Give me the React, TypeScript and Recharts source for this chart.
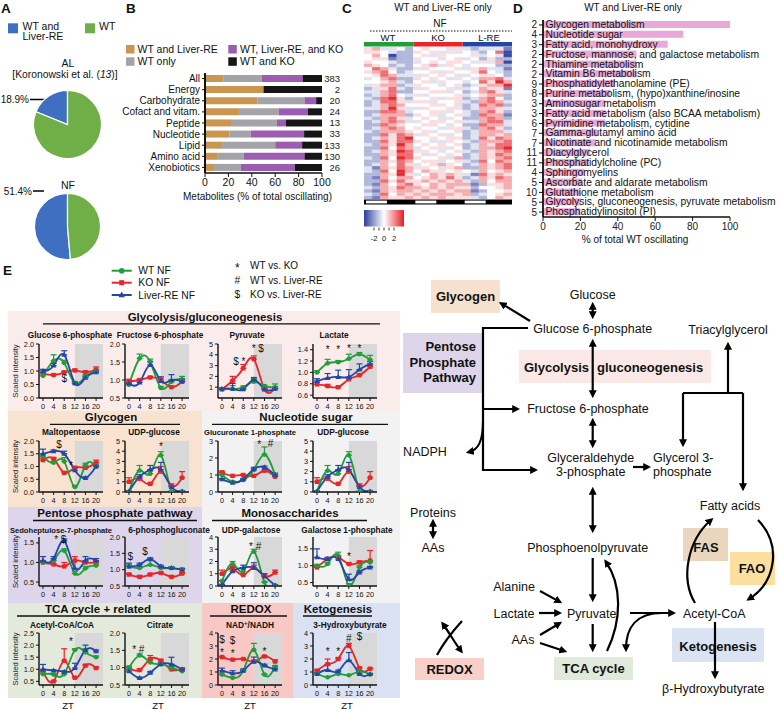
import React from 'react';
import {
  PieChart, Pie, Cell, BarChart, Bar, XAxis, YAxis, LineChart, Line,
  ErrorBar, ReferenceArea, ReferenceDot, LabelList,
} from 'recharts';

const FONT = '"Liberation Sans", Arial, Helvetica, sans-serif';
const GREEN = '#1f9e3a';
const RED = '#e8262a';
const BLUE = '#2446a8';

// ===== Panel A =====
const pieNames = ['WT and Liver-RE', 'WT'];
const alShares = [18.9, 81.1];
const nfShares = [51.4, 48.6];
const pieColors = ['#3f6fc1', '#70ae48'];

// ===== Panel B =====
const bCategories = ['All', 'Energy', 'Carbohydrate', 'Cofact and vitam.', 'Peptide', 'Nucleotide', 'Lipid', 'Amino acid', 'Xenobiotics'];
const bWtLre = [16, 50, 45, 29, 23, 21, 14.5, 11, 7.7];
const bWtOnly = [32.5, 0, 40, 34, 38.5, 18.2, 45.5, 22, 23];
const bAllThree = [35, 0, 10, 25, 7.7, 45.5, 23, 52, 46.2];
const bWtKo = [16.5, 50, 5, 12, 30.8, 15.3, 17, 15, 23.1];
const bCounts = [383, 2, 20, 24, 13, 33, 133, 130, 26];
const bSeries = ['WT and Liver-RE', 'WT only', 'WT, Liver-RE, and KO', 'WT and KO'];
const bColors = ['#c9954f', '#a4a4a8', '#9c5cb0', '#161616'];
const bTicks = [0, 20, 40, 60, 80, 100];

// ===== Panel C (z-scores, digit 0..8 -> -2..+2; columns WT x6 | KO x6 | L-RE x6) =====
const heatGroups = ['WT', 'KO', 'L-RE'];
const heatRows = [
  '563342 454435 323331',
  '554322 545353 432470',
  '464022 453544 453430',
  '455122 544345 342522',
  '544322 345455 435360',
  '654232 456354 344422',
  '476522 534445 356331',
  '567423 445354 457432',
  '457633 354543 345542',
  '346722 545435 436673',
  '445632 453544 347586',
  '356623 544345 235668',
  '235732 354453 346551',
  '336722 445534 236753',
  '236743 534445 345662',
  '327852 445355 236742',
  '237753 553445 326763',
  '236764 445543 237672',
  '336853 354455 236653',
  '227763 445534 326752',
  '236662 545345 327661',
  '326753 454354 226762',
  '236763 345545 336773',
  '227654 455434 227663',
  '236764 544355 326752',
  '326665 453445 236663',
  '227576 354534 236656',
  '236578 445455 237576',
  '227577 543354 326667',
  '326586 454545 236577',
  '227476 345534 236678',
  '236587 554345 326567',
  '226577 435454 236576',
  '327487 544536 236567',
  '226576 455345 327476',
  '236475 345654 236567',
  '316576 554356 226567',
  '327486 465545 436456',
  '226585 346565 317565',
  '216466 456575 236576',
  '227575 565656 326466',
  '216467 546566 612556',
  '326576 656565 524456',
  '216566 565656 612445',
  '327465 656665 623456',
  '216556 565655 532465',
];

// ===== Panel D =====
const dPathways = [
  'Glycogen metabolism', 'Nucleotide sugar', 'Fatty acid, monohydroxy',
  'Fructose, mannose, and galactose metabolism', 'Thiamine metabolism', 'Vitamin B6 metabolism',
  'Phosphatidylethanolamine (PE)', 'Purine metabolism, (hypo)xanthine/inosine', 'Aminosugar metabolism',
  'Fatty acid metabolism (also BCAA metabolism)', 'Pyrimidine metabolism, cytidine', 'Gamma-glutamyl amino acid',
  'Nicotinate and nicotinamide metabolism', 'Diacylglycerol', 'Phosphatidylcholine (PC)', 'Sphingomyelins',
  'Ascorbate and aldarate metabolism', 'Glutathione metabolism', 'Glycolysis, gluconeogenesis, pyruvate metabolism',
  'Phosphatidylinositol (PI)',
];
const dCounts = [2, 4, 3, 2, 2, 2, 9, 8, 3, 3, 6, 7, 7, 11, 11, 4, 5, 10, 5, 5];
const dPercent = [100, 75, 66.7, 50, 50, 50, 38.5, 36, 33.3, 33.3, 33.3, 29, 28, 25, 24.4, 22.2, 20.8, 20, 20, 20];
const dTicks = [0, 20, 40, 60, 80, 100];

// ===== Panel E =====
const zt = [0, 4, 8, 12, 16, 20];
const g6p = { wt: [0.82, 1.38, 1.3, 0.55, 0.8, 1.0], wtErr: [0.08, 0.22, 0.1, 0.05, 0.06, 0.06], ko: [0.9, 0.85, 0.95, 1.02, 0.95, 1.05], koErr: [0.05, 0.04, 0.04, 0.05, 0.06, 0.1], re: [1.0, 1.2, 1.6, 0.55, 0.75, 0.95], reErr: [0.06, 0.08, 0.15, 0.05, 0.06, 0.06] };
const f6p = { wt: [0.87, 1.6, 1.5, 0.78, 0.95, 1.02], wtErr: [0.04, 0.12, 0.08, 0.04, 0.05, 0.08], ko: [0.97, 1.0, 1.07, 1.0, 0.8, 0.95], koErr: [0.05, 0.03, 0.03, 0.05, 0.04, 0.05], re: [0.9, 0.93, 1.42, 0.97, 1.0, 0.97], reErr: [0.04, 0.05, 0.1, 0.12, 0.15, 0.06] };
const pyruvate = { wt: [0.8, 0.85, 1.0, 1.5, 1.1, 1.0], wtErr: [0.05, 0.3, 0.1, 0.3, 0.1, 0.3], ko: [0.8, 1.6, 2.75, 3.6, 0.8, 0.9], koErr: [0.1, 0.4, 0.35, 0.3, 0.1, 0.15], re: [0.85, 0.85, 0.8, 1.7, 0.8, 0.85], reErr: [0.1, 0.5, 0.05, 0.2, 0.05, 0.05] };
const lactate = { wt: [1.0, 1.16, 1.18, 1.24, 1.32, 1.22], wtErr: [0.03, 0.07, 0.03, 0.08, 0.03, 0.08], ko: [0.79, 0.76, 0.74, 0.88, 0.95, 1.1], koErr: [0.03, 0.03, 0.02, 0.03, 0.03, 0.03], re: [0.85, 0.9, 0.92, 0.92, 1.05, 1.15], reErr: [0.04, 0.08, 0.12, 0.13, 0.1, 0.04] };
const maltopentaose = { wt: [1.4, 1.15, 1.2, 0.2, 1.05, 1.0], wtErr: [0.08, 0.05, 0.15, 0.05, 0.08, 0.05], ko: [1.25, 1.3, 0.75, 0.95, 0.95, 1.15], koErr: [0.08, 0.05, 0.05, 0.05, 0.05, 0.1], re: [1.5, 1.6, 1.5, 0.85, 0.55, 1.0], reErr: [0.18, 0.05, 0.1, 0.1, 0.05, 0.05] };
const udpGlucose = { wt: [0.05, 2.1, 1.8, 3.6, 0.05, 0.05], wtErr: [0.05, 0.5, 0.3, 0.35, 0.05, 0.05], ko: [1.0, 1.3, 0.8, 2.0, 0.6, 1.4], koErr: [0.4, 0.2, 0.1, 0.5, 0.2, 0.6], re: [0.05, 1.5, 2.2, 2.2, 0.5, 0.05], reErr: [0.05, 0.2, 0.4, 0.7, 0.1, 0.05] };
const glucuronate1p = { wt: [1.0, 0.6, 0.7, 1.3, 2.2, 1.0], wtErr: [0.05, 0.05, 0.05, 0.1, 0.45, 0.12], ko: [1.15, 0.95, 1.0, 0.95, 1.25, 0.9], koErr: [0.08, 0.03, 0.05, 0.05, 0.05, 0.05], re: [0.75, 0.55, 0.75, 1.35, 1.45, 1.0], reErr: [0.05, 0.05, 0.05, 0.1, 0.08, 0.05] };
const sedoheptulose7p = { wt: [1.0, 1.05, 1.3, 0.72, 0.85, 0.92], wtErr: [0.03, 0.05, 0.05, 0.05, 0.05, 0.04], ko: [1.0, 0.95, 0.9, 1.05, 1.0, 1.0], koErr: [0.03, 0.03, 0.1, 0.1, 0.03, 0.03], re: [1.05, 1.1, 1.55, 0.85, 1.05, 1.05], reErr: [0.1, 0.05, 0.05, 0.2, 0.1, 0.05] };
const phosphogluconate6 = { wt: [1.1, 1.05, 1.15, 1.05, 1.05, 1.0], wtErr: [0.05, 0.04, 0.2, 0.05, 0.03, 0.04], ko: [0.85, 0.78, 0.85, 0.9, 0.78, 0.88], koErr: [0.04, 0.04, 0.04, 0.03, 0.03, 0.03], re: [1.1, 1.15, 1.32, 1.1, 1.05, 1.0], reErr: [0.1, 0.05, 0.04, 0.04, 0.04, 0.04] };
const udpGalactose = { wt: [0.4, 1.8, 1.2, 2.8, 0.3, 0.05], wtErr: [0.05, 0.2, 0.3, 0.2, 0.05, 0.05], ko: [1.0, 1.4, 0.9, 1.5, 0.8, 1.1], koErr: [0.3, 0.2, 0.1, 0.2, 0.2, 0.2], re: [0.1, 1.2, 1.5, 1.5, 0.8, 0.05], reErr: [0.05, 0.3, 0.2, 0.4, 0.2, 0.05] };
const galactose1p = { wt: [1.0, 1.05, 1.3, 0.42, 0.95, 1.1], wtErr: [0.04, 0.05, 0.1, 0.05, 0.05, 0.05], ko: [0.95, 1.2, 1.25, 1.05, 1.1, 1.15], koErr: [0.03, 0.04, 0.03, 0.04, 0.04, 0.3], re: [1.25, 1.2, 1.2, 0.6, 0.8, 0.95], reErr: [0.25, 0.05, 0.05, 0.15, 0.05, 0.03] };
const acetylCoA = { wt: [0.8, 0.78, 0.8, 1.8, 1.7, 1.5], wtErr: [0.05, 0.05, 0.05, 0.05, 0.15, 0.05], ko: [0.9, 0.5, 1.35, 0.65, 1.15, 1.05], koErr: [0.05, 0.03, 0.5, 0.05, 0.05, 0.05], re: [1.0, 0.95, 0.9, 1.05, 1.8, 1.75], reErr: [0.2, 0.03, 0.03, 0.2, 0.2, 0.05] };
const citrate = { wt: [1.0, 1.35, 1.15, 1.1, 1.0, 0.9], wtErr: [0.03, 0.05, 0.05, 0.04, 0.04, 0.03], ko: [1.0, 0.93, 1.25, 1.2, 0.95, 0.95], koErr: [0.04, 0.04, 0.1, 0.04, 0.04, 0.04], re: [0.9, 0.7, 0.85, 1.1, 1.1, 0.95], reErr: [0.04, 0.03, 0.04, 0.05, 0.2, 0.04] };
const nadRatio = { wt: [0.8, 0.55, 1.1, 2.7, 0.8, 1.4], wtErr: [0.05, 0.05, 0.15, 0.5, 0.05, 0.1], ko: [2.15, 1.95, 2.0, 1.8, 2.2, 1.8], koErr: [0.05, 0.05, 0.05, 0.1, 0.05, 0.15], re: [1.1, 0.9, 1.1, 1.8, 1.5, 1.2], reErr: [0.2, 0.2, 0.1, 0.35, 0.1, 0.1] };
const hydroxybutyrate = { wt: [0.9, 0.6, 0.85, 0.75, 1.05, 0.8], wtErr: [0.05, 0.05, 0.05, 0.05, 0.05, 0.05], ko: [1.1, 1.6, 2.0, 3.0, 1.3, 1.25], koErr: [0.05, 0.4, 0.1, 0.2, 0.05, 0.05], re: [0.85, 1.15, 1.05, 1.9, 0.85, 0.85], reErr: [0.05, 0.4, 0.1, 0.6, 0.05, 0.05] };

// significance marks (ZT, value, symbol)
const g6pMarks = [{ t: 8, v: 0.72, s: '$' }];
const pyruvateMarks = [{ t: 6.5, v: 3.4, s: '$ *' }, { t: 13.5, v: 4.6, s: '* $' }];
const lactateMarks = [{ t: 4, v: 1.4, s: '*' }, { t: 8, v: 1.4, s: '*' }, { t: 12, v: 1.42, s: '*' }, { t: 16, v: 1.42, s: '*' }];
const maltoMarks = [{ t: 6, v: 1.85, s: '$' }, { t: 10.5, v: 1.05, s: '*' }];
const udpGlcMarks = [{ t: 12, v: 4.5, s: '*' }];
const glucuronateMarks = [{ t: 14, v: 2.8, s: '*' }, { t: 18.3, v: 2.85, s: '#' }];
const sedoMarks = [{ t: 6.5, v: 1.58, s: '* $' }];
const pgMarks = [{ t: 0.5, v: 1.4, s: '$' }, { t: 6, v: 1.55, s: '$' }];
const udpGalMarks = [{ t: 12.5, v: 3.25, s: '* #' }];
const gal1pMarks = [{ t: 12, v: 1.28, s: '*' }];
const acetylMarks = [{ t: 10.5, v: 2.15, s: '*' }];
const citrateMarks = [{ t: 3.5, v: 1.52, s: '* #' }];
const nadMarks = [{ t: 0, v: 3.5, s: '$' }, { t: 4, v: 3.4, s: '$' }, { t: 0, v: 2.5, s: '*' }, { t: 4, v: 2.4, s: '*' }, { t: 16, v: 2.55, s: '*' }];
const hbMarks = [{ t: 4, v: 2.55, s: '*' }, { t: 8, v: 2.6, s: '*' }, { t: 12, v: 3.55, s: '#' }, { t: 16, v: 3.75, s: '$' }];

const ROW_Y = [[344, 398], [441, 492], [537, 586], [633, 685]];
const COL_X = [39, 125, 218, 313];
const TITLE_Y = [337.5, 434.5, 533, 628];

const smallCharts = [
  { r: 0, c: 0, title: 'Glucose 6-phosphate', tx: 70, d: g6p, dom: [0, 2], ticks: [0, 0.5, 1, 1.5, 2], dec: 1, marks: g6pMarks },
  { r: 0, c: 1, title: 'Fructose 6-phosphate', tx: 160, d: f6p, dom: [0.5, 2], ticks: [0.5, 1, 1.5, 2], dec: 1, marks: [] },
  { r: 0, c: 2, title: 'Pyruvate', tx: 247, d: pyruvate, dom: [0, 5], ticks: [1, 2, 3, 4, 5], dec: 0, marks: pyruvateMarks },
  { r: 0, c: 3, title: 'Lactate', tx: 334, d: lactate, dom: [0.55, 1.5], ticks: [0.6, 0.8, 1.0, 1.2, 1.4], dec: 1, marks: lactateMarks },
  { r: 1, c: 0, title: 'Maltopentaose', tx: 71, d: maltopentaose, dom: [0, 2], ticks: [0, 0.5, 1, 1.5, 2], dec: 1, marks: maltoMarks },
  { r: 1, c: 1, title: 'UDP-glucose', tx: 154, d: udpGlucose, dom: [0, 5], ticks: [0, 1, 2, 3, 4, 5], dec: 0, marks: udpGlcMarks },
  { r: 1, c: 2, title: 'Glucuronate 1-phosphate', tx: 250, d: glucuronate1p, dom: [0, 3], ticks: [0, 1, 2, 3], dec: 0, marks: glucuronateMarks },
  { r: 1, c: 3, title: 'UDP-glucose', tx: 343, d: udpGlucose, dom: [0, 5], ticks: [0, 1, 2, 3, 4, 5], dec: 0, marks: [] },
  { r: 2, c: 0, title: 'Sedoheptulose-7-phosphate', tx: 61, d: sedoheptulose7p, dom: [0.4, 1.65], ticks: [0.5, 1, 1.5], dec: 1, marks: sedoMarks },
  { r: 2, c: 1, title: '6-phosphogluconate', tx: 169, d: phosphogluconate6, dom: [0.5, 2], ticks: [0.5, 1, 1.5, 2], dec: 1, marks: pgMarks },
  { r: 2, c: 2, title: 'UDP-galactose', tx: 251, d: udpGalactose, dom: [0, 4], ticks: [0, 1, 2, 3, 4], dec: 0, marks: udpGalMarks },
  { r: 2, c: 3, title: 'Galactose 1-phosphate', tx: 347, d: galactose1p, dom: [0.4, 1.85], ticks: [0.5, 1, 1.5], dec: 1, marks: gal1pMarks },
  { r: 3, c: 0, title: 'Acetyl-CoA/CoA', tx: 62, d: acetylCoA, dom: [0.35, 2.5], ticks: [0.5, 1, 1.5, 2, 2.5], dec: 1, marks: acetylMarks },
  { r: 3, c: 1, title: 'Citrate', tx: 160, d: citrate, dom: [0.5, 2], ticks: [0.5, 1, 1.5, 2], dec: 1, marks: citrateMarks },
  { r: 3, c: 2, title: 'NAD+/NADH', tx: 250, d: nadRatio, dom: [0, 4], ticks: [0, 1, 2, 3, 4], dec: 0, marks: nadMarks },
  { r: 3, c: 3, title: '3-Hydroxybutyrate', tx: 350, d: hydroxybutyrate, dom: [0, 4], ticks: [0, 1, 2, 3, 4], dec: 0, marks: hbMarks },
];

// ---------- helpers ----------
function heatColor(v: number) {
  const t = Math.pow(Math.min(1, Math.abs(v) / 2), 1.35) * 0.95;
  const base = v < 0 ? [42, 63, 157] : [228, 31, 38];
  const m = (c: number) => Math.round(255 + (c - 255) * t);
  return `rgb(${m(base[0])},${m(base[1])},${m(base[2])})`;
}

const T = ({ x, y, children, size = 10, anchor = 'start', bold = false, fill = '#111', italic = false, ...rest }: any) => (
  <text x={x} y={y} fontSize={size} textAnchor={anchor} fontWeight={bold ? 'bold' : 'normal'}
    fontStyle={italic ? 'italic' : 'normal'} fill={fill} fontFamily={FONT} {...rest}>{children}</text>
);

const Arrow = ({ d, start = false, end = true }: any) => (
  <path d={d} fill="none" stroke="#000" strokeWidth={2.2}
    markerEnd={end ? 'url(#ah)' : undefined} markerStart={start ? 'url(#ah)' : undefined} />
);

const dotCircle = (color: string) => (p: any) => (
  p.cx == null ? <g key={`n${p.index}`} /> : <circle key={`c${p.index}`} cx={p.cx} cy={p.cy} r={2.3} fill={color} />
);
const dotSquare = (color: string) => (p: any) => (
  p.cx == null ? <g key={`n${p.index}`} /> : <rect key={`s${p.index}`} x={p.cx - 2.2} y={p.cy - 2.2} width={4.4} height={4.4} fill={color} />
);
const dotTriangle = (color: string) => (p: any) => (
  p.cx == null ? <g key={`n${p.index}`} /> :
    <polygon key={`t${p.index}`} points={`${p.cx},${p.cy - 3} ${p.cx + 2.8},${p.cy + 2} ${p.cx - 2.8},${p.cy + 2}`} fill={color} />
);

const PLOT_W = 64;
const Y_W = 28;

function SmallChart({ cfg }: any) {
  const [top, bottom] = ROW_Y[cfg.r];
  const axisX = COL_X[cfg.c];
  const plotH = bottom - top;
  const W = Y_W + PLOT_W + 4;
  const H = plotH + 6 + 20;
  const d = cfg.d;
  const rows = zt.map((t, i) => ({
    t, wt: d.wt[i], wtE: [0, d.wtErr[i]], ko: d.ko[i], koE: [0, d.koErr[i]], re: d.re[i], reE: [0, d.reErr[i]],
  }));
  const axisStyle = { stroke: '#111', strokeWidth: 1.4 };
  return (
    <div style={{ position: 'absolute', left: axisX - Y_W, top: top - 6, width: W, height: H }}>
      <LineChart width={W} height={H} data={rows} margin={{ top: 6, right: 4, bottom: 0, left: 0 }}>
        <ReferenceArea x1={12} x2={22.6} fill="#d8d8d8" fillOpacity={1} stroke="none" />
        <XAxis dataKey="t" type="number" domain={[-1.5, 22.6]} ticks={zt} interval={0} height={20}
          tickSize={3} tickMargin={3} tick={{ fontSize: 7.3, fill: '#111' }} axisLine={axisStyle}
          tickLine={{ stroke: '#111' }} allowDataOverflow />
        <YAxis type="number" domain={cfg.dom} ticks={cfg.ticks} interval={0} width={Y_W} tickSize={3}
          tickMargin={2} tick={{ fontSize: 7.3, fill: '#111' }} tickFormatter={(v: number) => v.toFixed(cfg.dec)}
          axisLine={axisStyle} tickLine={{ stroke: '#111' }} allowDataOverflow />
        <Line type="natural" dataKey="ko" stroke={RED} strokeWidth={1.8} dot={dotSquare(RED)} activeDot={false} isAnimationActive={false}>
          <ErrorBar dataKey="koE" width={3} strokeWidth={1.2} stroke={RED} direction="y" />
        </Line>
        <Line type="natural" dataKey="wt" stroke={GREEN} strokeWidth={1.8} dot={dotCircle(GREEN)} activeDot={false} isAnimationActive={false}>
          <ErrorBar dataKey="wtE" width={3} strokeWidth={1.2} stroke={GREEN} direction="y" />
        </Line>
        <Line type="natural" dataKey="re" stroke={BLUE} strokeWidth={1.8} dot={dotTriangle(BLUE)} activeDot={false} isAnimationActive={false}>
          <ErrorBar dataKey="reE" width={3} strokeWidth={1.2} stroke={BLUE} direction="y" />
        </Line>
        {cfg.marks.map((m: any, i: number) => (
          <ReferenceDot key={i} x={m.t} y={m.v} r={0} fill="none" stroke="none" ifOverflow="visible"
            label={{ value: m.s, position: 'center', fontSize: 10, fill: '#111' }} />
        ))}
      </LineChart>
    </div>
  );
}

// ---------- Panel components ----------
function PanelA() {
  const al = pieNames.map((name, i) => ({ name, value: alShares[i] }));
  const nf = pieNames.map((name, i) => ({ name, value: nfShares[i] }));
  return (
    <>
      <div style={{ position: 'absolute', left: 27, top: 84, width: 81, height: 81 }}>
        <PieChart width={81} height={81} margin={{ top: 0, right: 0, bottom: 0, left: 0 }}>
          <Pie data={al} dataKey="value" cx={40.5} cy={40.5} outerRadius={34} startAngle={90} endAngle={450}
            stroke="#fff" strokeWidth={1.2} isAnimationActive={false}>
            {al.map((_, i) => <Cell key={i} fill={pieColors[i]} />)}
          </Pie>
        </PieChart>
      </div>
      <div style={{ position: 'absolute', left: 27, top: 185.5, width: 81, height: 81 }}>
        <PieChart width={81} height={81} margin={{ top: 0, right: 0, bottom: 0, left: 0 }}>
          <Pie data={nf} dataKey="value" cx={40.5} cy={40.5} outerRadius={33} startAngle={90} endAngle={450}
            stroke="#fff" strokeWidth={1.2} isAnimationActive={false}>
            {nf.map((_, i) => <Cell key={i} fill={pieColors[i]} />)}
          </Pie>
        </PieChart>
      </div>
    </>
  );
}

function PanelB() {
  const data = bCategories.map((c, i) => ({ c, a: bWtLre[i], b: bWtOnly[i], p: bAllThree[i], k: bWtKo[i], n: bCounts[i] }));
  const countLabel = (p: any) => {
    const vb = p.viewBox || {};
    const x = p.x ?? vb.x; const y = p.y ?? vb.y; const w = p.width ?? vb.width; const h = p.height ?? vb.height;
    return <text x={x + w + 18} y={y + h / 2} dy={3.4} textAnchor="end" fontSize={9.5} fill="#222" fontFamily={FONT}>{p.value}</text>;
  };
  const catTick = (p: any) => (
    <text x={p.x} y={p.y} dy={3.6} textAnchor="end" fontSize={10} fill="#111" fontFamily={FONT}>{p.payload.value}</text>
  );
  return (
    <div style={{ position: 'absolute', left: 110, top: 73, width: 237, height: 130 }}>
      <BarChart layout="vertical" width={237} height={130} data={data} barSize={7}
        margin={{ top: 0, right: 25, bottom: 0, left: 0 }}>
        <XAxis type="number" domain={[0, 100]} ticks={bTicks} interval={0} height={30} tickSize={4}
          tick={{ fontSize: 10.5, fill: '#111' }} axisLine={{ stroke: '#111', strokeWidth: 1.6 }} tickLine={{ stroke: '#111' }} />
        <YAxis type="category" dataKey="c" width={95} tickSize={3} interval={0}
          tick={catTick} axisLine={{ stroke: '#111', strokeWidth: 2 }} tickLine={{ stroke: '#111' }} />
        <Bar dataKey="a" stackId="s" fill={bColors[0]} isAnimationActive={false} />
        <Bar dataKey="b" stackId="s" fill={bColors[1]} isAnimationActive={false} />
        <Bar dataKey="p" stackId="s" fill={bColors[2]} isAnimationActive={false} />
        <Bar dataKey="k" stackId="s" fill={bColors[3]} isAnimationActive={false}>
          <LabelList dataKey="n" content={countLabel} />
        </Bar>
      </BarChart>
    </div>
  );
}

function PanelC() {
  const grid = heatRows.map((r) => r.replace(/ /g, ''));
  const nRows = grid.length;
  const nCols = grid[0].length;
  const data = Array.from({ length: nCols }, (_, c) => {
    const o: any = { col: c };
    for (let r = 0; r < nRows; r++) o['r' + r] = 1;
    return o;
  });
  return (
    <div style={{ position: 'absolute', left: 364, top: 47, width: 148, height: 152 }}>
      <BarChart width={148} height={152} data={data} margin={{ top: 0, right: 0, bottom: 0, left: 0 }}
        barCategoryGap={0} barGap={0}>
        <XAxis dataKey="col" hide />
        <YAxis hide type="number" domain={[0, nRows]} />
        {grid.map((_, k) => {
          const r = nRows - 1 - k;
          return (
            <Bar key={r} dataKey={'r' + r} stackId="h" isAnimationActive={false}>
              {data.map((_d, c) => {
                const col = heatColor((Number(grid[r][c]) - 4) / 2);
                return <Cell key={c} fill={col} stroke={col} strokeWidth={0.4} />;
              })}
            </Bar>
          );
        })}
      </BarChart>
    </div>
  );
}

function PanelD() {
  const data = dPathways.map((name, i) => ({ name, pct: dPercent[i] }));
  const tick = (p: any) => {
    const i = dPathways.indexOf(p.payload.value);
    return <text x={p.x} y={p.y} dy={3.5} textAnchor="end" fontSize={10} fill="#222" fontFamily={FONT}>{dCounts[i]}</text>;
  };
  const label = (p: any) => {
    const vb = p.viewBox || {};
    const x = p.x ?? vb.x; const y = p.y ?? vb.y; const h = p.height ?? vb.height;
    return <text x={x + 2.5} y={y + h / 2} dy={3.6} fontSize={10.3} fill="#111" fontFamily={FONT}>{p.value}</text>;
  };
  return (
    <div style={{ position: 'absolute', left: 500, top: 20, width: 280, height: 227 }}>
      <BarChart layout="vertical" width={280} height={227} data={data} barSize={7}
        margin={{ top: 0, right: 50, bottom: 0, left: 0 }}>
        <XAxis type="number" domain={[0, 100]} ticks={dTicks} interval={0} height={30} tickSize={4}
          tick={{ fontSize: 10, fill: '#222' }} axisLine={{ stroke: '#111', strokeWidth: 1.5 }} tickLine={{ stroke: '#111' }} />
        <YAxis type="category" dataKey="name" width={43} tickSize={4} interval={0} tick={tick}
          axisLine={{ stroke: '#111', strokeWidth: 1.8 }} tickLine={{ stroke: '#111' }} />
        <Bar dataKey="pct" fill="#e9a9d8" isAnimationActive={false}>
          <LabelList dataKey="name" content={label} />
        </Bar>
      </BarChart>
    </div>
  );
}

function Background() {
  const groupW = 148 / 3;
  return (
    <svg width={780} height={710} style={{ position: 'absolute', left: 0, top: 0 }}>
      <defs>
        <marker id="ah" viewBox="0 0 10 10" refX="6" refY="5" markerWidth="8" markerHeight="8"
          markerUnits="userSpaceOnUse" orient="auto-start-reverse">
          <path d="M0,0 L10,5 L0,10 z" fill="#000" />
        </marker>
        <linearGradient id="hmgrad" x1="0" x2="1" y1="0" y2="0">
          <stop offset="0" stopColor="#2a3f9d" />
          <stop offset="0.5" stopColor="#ffffff" />
          <stop offset="1" stopColor="#e41f26" />
        </linearGradient>
      </defs>

      {/* Panel letters */}
      <T x={1} y={12.5} size={13.5} bold>A</T>
      <T x={126} y={13} size={13.5} bold>B</T>
      <T x={342} y={13} size={13.5} bold>C</T>
      <T x={513} y={13} size={13.5} bold>D</T>
      <T x={3} y={275} size={13.5} bold>E</T>

      {/* Panel A legend and labels */}
      <rect x={8} y={23.3} width={10} height={10} fill={pieColors[0]} />
      <T x={22.5} y={29.5} size={10.5}>WT and</T>
      <T x={22.5} y={40} size={10.5}>Liver-RE</T>
      <rect x={85} y={23.3} width={10} height={10} fill={pieColors[1]} />
      <T x={99} y={29.5} size={10.5}>WT</T>
      <T x={68} y={67} size={10.5} anchor="middle">AL</T>
      <text x={65} y={77.5} fontSize={10.3} textAnchor="middle" fill="#111" fontFamily={FONT}>
        [Koronowski et al. (<tspan fontStyle="italic">13</tspan>)]
      </text>
      <T x={29} y={103} size={10} anchor="end">18.9%</T>
      <line x1={30} x2={45} y1={99.5} y2={99.5} stroke="#000" strokeWidth={1.5} />
      <T x={68} y={189} size={10.5} anchor="middle">NF</T>
      <T x={32} y={194.5} size={10} anchor="end">51.4%</T>
      <line x1={33} x2={44} y1={191} y2={191} stroke="#000" strokeWidth={1.5} />

      {/* Panel B legend */}
      <rect x={126} y={45} width={8.5} height={8.5} fill={bColors[0]} />
      <T x={137.5} y={53} size={10.5}>{bSeries[0]}</T>
      <rect x={126} y={57.3} width={8.5} height={8.5} fill={bColors[1]} />
      <T x={137.5} y={65.3} size={10.5}>{bSeries[1]}</T>
      <rect x={228.3} y={45} width={8.5} height={8.5} fill={bColors[2]} />
      <T x={240} y={53} size={10.5}>{bSeries[2]}</T>
      <rect x={228.3} y={57.3} width={8.5} height={8.5} fill={bColors[3]} />
      <T x={240} y={65.3} size={10.5}>{bSeries[3]}</T>
      <T x={183} y={200} size={10}>Metabolites (% of total oscillating)</T>

      {/* Panel C decorations */}
      <T x={443} y={11} size={10} anchor="middle">WT and Liver-RE only</T>
      <T x={440} y={27} size={10} anchor="middle">NF</T>
      <line x1={370} x2={512} y1={31} y2={31} stroke="#111" strokeWidth={1.2} strokeDasharray="1.5 1.5" />
      <T x={388} y={41} size={9.5} anchor="middle">{heatGroups[0]}</T>
      <T x={438} y={41} size={9.5} anchor="middle">{heatGroups[1]}</T>
      <T x={489} y={41} size={9.5} anchor="middle">{heatGroups[2]}</T>
      <rect x={364} y={42} width={groupW} height={4.5} fill={GREEN} />
      <rect x={364 + groupW} y={42} width={groupW} height={4.5} fill={RED} />
      <rect x={364 + 2 * groupW} y={42} width={groupW} height={4.5} fill={BLUE} />
      <rect x={364} y={199.5} width={148} height={5} fill="#000" />
      {[0, 1, 2].map((g) => (
        <rect key={g} x={364 + g * groupW + 2} y={200.6} width={21} height={2.8} fill="#fff" />
      ))}
      <rect x={364} y={210} width={40} height={16.5} fill="url(#hmgrad)" />
      {[374, 379, 384, 389, 394].map((x) => (
        <line key={x} x1={x} x2={x} y1={227.5} y2={230.5} stroke="#111" strokeWidth={0.8} />
      ))}
      <T x={374} y={241} size={7.5} anchor="middle">-2</T>
      <T x={384} y={241} size={7.5} anchor="middle">0</T>
      <T x={394} y={241} size={7.5} anchor="middle">2</T>

      {/* Panel D decorations */}
      <T x={633} y={11} size={10} anchor="middle">WT and Liver-RE only</T>
      <T x={635} y={243} size={10} anchor="middle">% of total WT oscillating</T>

      {/* Panel E legend */}
      <line x1={111.7} x2={131.7} y1={270.7} y2={270.7} stroke={GREEN} strokeWidth={2} />
      <circle cx={121.7} cy={270.7} r={2.8} fill={GREEN} />
      <T x={138.3} y={274.3} size={10.3}>WT NF</T>
      <line x1={111.7} x2={131.7} y1={282.7} y2={282.7} stroke={RED} strokeWidth={2} />
      <rect x={119.2} y={280.2} width={5} height={5} fill={RED} />
      <T x={138.3} y={286.3} size={10.3}>KO NF</T>
      <line x1={111.7} x2={131.7} y1={295} y2={295} stroke={BLUE} strokeWidth={2} />
      <polygon points="121.7,291.6 124.9,297.2 118.5,297.2" fill={BLUE} />
      <T x={138.3} y={298.6} size={10.3}>Liver-RE NF</T>
      <T x={237.3} y={272} size={12} anchor="middle">*</T>
      <T x={250} y={268.6} size={10}>WT vs. KO</T>
      <T x={237.3} y={284} size={10.3} anchor="middle">#</T>
      <T x={250} y={284} size={10}>WT vs. Liver-RE</T>
      <T x={237.3} y={298.3} size={10.3} anchor="middle">$</T>
      <T x={250} y={298.3} size={10}>KO vs. Liver-RE</T>

      {/* Panel E section backgrounds */}
      <rect x={8} y={311} width={392} height={100} fill="#faeceb" />
      <rect x={8} y={411} width={194} height={96} fill="#f8e3d1" />
      <rect x={202} y={411} width={198} height={192} fill="#f2f2f2" />
      <rect x={8} y={507} width={194} height={96} fill="#ddd5eb" />
      <rect x={8} y={603} width={194} height={95} fill="#e3eadb" />
      <rect x={202} y={603} width={91} height={95} fill="#f8c9c4" />
      <rect x={293} y={603} width={107} height={95} fill="#d9e1f2" />

      {/* Section titles */}
      <T x={205} y={320.5} size={11.5} bold anchor="middle">Glycolysis/gluconeogenesis</T>
      <line x1={43} x2={380} y1={323.8} y2={323.8} stroke="#111" strokeWidth={1.3} />
      <T x={111} y={420.6} size={11.5} bold anchor="middle">Glycogen</T>
      <line x1={50} x2={180} y1={424.3} y2={424.3} stroke="#111" strokeWidth={1.3} />
      <T x={306} y={420.6} size={11.5} bold anchor="middle">Nucleotide sugar</T>
      <line x1={212} x2={388} y1={424.3} y2={424.3} stroke="#111" strokeWidth={1.3} />
      <T x={115} y={517.3} size={11.5} bold anchor="middle">Pentose phosphate pathway</T>
      <line x1={33} x2={197} y1={520.5} y2={520.5} stroke="#111" strokeWidth={1.3} />
      <T x={290} y={517.3} size={11.5} bold anchor="middle">Monosaccharides</T>
      <line x1={212} x2={367} y1={520.5} y2={520.5} stroke="#111" strokeWidth={1.3} />
      <T x={98} y={613} size={11.5} bold anchor="middle">TCA cycle + related</T>
      <line x1={17} x2={190} y1={616} y2={616} stroke="#111" strokeWidth={1.3} />
      <T x={251} y={613} size={11.5} bold anchor="middle">REDOX</T>
      <line x1={210} x2={287} y1={616} y2={616} stroke="#111" strokeWidth={1.3} />
      <T x={338} y={613} size={11.5} bold anchor="middle">Ketogenesis</T>
      <line x1={303} x2={372} y1={616} y2={616} stroke="#111" strokeWidth={1.3} />

      {/* Small chart titles */}
      {smallCharts.map((cfg, i) => (
        cfg.title === 'NAD+/NADH' ? (
          <text key={i} x={cfg.tx} y={TITLE_Y[cfg.r]} fontSize={8.3} fontWeight="bold" textAnchor="middle" fill="#111" fontFamily={FONT}>
            NAD<tspan dy={-3} fontSize={6}>+</tspan><tspan dy={3}>/NADH</tspan>
          </text>
        ) : (
          <T key={i} x={cfg.tx} y={TITLE_Y[cfg.r]} size={cfg.title.length > 22 ? 7.6 : 8.3} bold anchor="middle">{cfg.title}</T>
        )
      ))}
      {ROW_Y.map(([a, b], i) => (
        <text key={i} transform={`translate(17.6,${(a + b) / 2}) rotate(-90)`} fontSize={7.6} textAnchor="middle" fill="#222" fontFamily={FONT}>
          Scaled intensity
        </text>
      ))}
      {[68, 158, 250, 347].map((x) => (
        <T key={x} x={x} y={709} size={9.5} anchor="middle">ZT</T>
      ))}

      {/* ===== Pathway diagram ===== */}
      <rect x={431} y={280} width={69} height={33} fill="#f6e1cf" />
      <rect x={403} y={333} width={79} height={60} fill="#ddd5ea" />
      <rect x={519} y={350} width={192} height={33} fill="#f9e8e6" />
      <rect x={554} y={657} width={79} height={23} fill="#e0e9da" />
      <rect x={672} y={628} width={92} height={34} fill="#dae3f1" />
      <rect x={683} y={528} width={45} height={33} fill="#ead6bd" />
      <rect x={730} y={552} width={45} height={33} fill="#fcdf9e" />
      <rect x={415} y={658} width={69} height={22} fill="#f7d0c9" />

      <T x={465.5} y={301} size={13} bold anchor="middle">Glycogen</T>
      <T x={476} y={351.3} size={13} bold anchor="end">Pentose</T>
      <T x={476} y={366.6} size={13} bold anchor="end">Phosphate</T>
      <T x={476} y={382.3} size={13} bold anchor="end">Pathway</T>
      <T x={589} y={371.6} size={13} bold anchor="end">Glycolysis</T>
      <T x={597} y={371.6} size={13} bold>gluconeogenesis</T>
      <T x={593.5} y={672.6} size={13} bold anchor="middle">TCA cycle</T>
      <T x={718} y={650.6} size={13} bold anchor="middle">Ketogenesis</T>
      <T x={706} y={552.3} size={13} bold anchor="middle">FAS</T>
      <T x={752} y={573} size={13} bold anchor="middle">FAO</T>
      <T x={449.5} y={673.6} size={13} bold anchor="middle">REDOX</T>

      <T x={592.7} y={299.4} size={12.5} anchor="middle">Glucose</T>
      <T x={592.7} y={332.7} size={12.5} anchor="middle">Glucose 6-phosphate</T>
      <T x={728} y={333.7} size={12.5} anchor="middle">Triacylglycerol</T>
      <T x={588} y={413.4} size={12.5} anchor="middle">Fructose 6-phosphate</T>
      <T x={425} y={456.4} size={12.5} anchor="middle">NADPH</T>
      <T x={590.7} y={461.7} size={12.5} anchor="middle">Glyceraldehyde</T>
      <T x={590.7} y={476} size={12.5} anchor="middle">3-phosphate</T>
      <T x={653} y={462.4} size={12.5}>Glycerol 3-</T>
      <T x={653} y={476.4} size={12.5}>phosphate</T>
      <T x={730} y={510.4} size={12.5} anchor="middle">Fatty acids</T>
      <T x={433} y={517} size={12.5} anchor="middle">Proteins</T>
      <T x={433} y={552} size={12.5} anchor="middle">AAs</T>
      <T x={587.7} y={551.7} size={12.5} anchor="middle">Phosphoenolpyruvate</T>
      <T x={514} y={591} size={12.5} anchor="middle">Alanine</T>
      <T x={514} y={617.7} size={12.5} anchor="middle">Lactate</T>
      <T x={523} y={643.7} size={12.5} anchor="middle">AAs</T>
      <T x={591.7} y={617.7} size={12.5} anchor="middle">Pyruvate</T>
      <T x={714.3} y={617.7} size={12.5} anchor="middle">Acetyl-CoA</T>
      <T x={713.3} y={692.7} size={12.5} anchor="middle">β-Hydroxybutyrate</T>

      <Arrow d="M530,321 L501.6,303.6" />
      <Arrow d="M592.7,305 L592.7,316" start />
      <Arrow d="M592.7,342 L592.7,395" start />
      <Arrow d="M592.7,421 L592.7,445" start />
      <Arrow d="M528,328 L483,328 L483,470 L535,470" />
      <Arrow d="M483,409 L517,409" />
      <Arrow d="M483,422 C483,442 478,450 469,452" />
      <Arrow d="M633,467 L648,467" />
      <Arrow d="M728,393 L728,345" />
      <Arrow d="M683,393 L743,393" end={false} />
      <Arrow d="M683,393 L683,444" />
      <Arrow d="M743,393 L743,488" />
      <Arrow d="M433,522 L433,536" start />
      <Arrow d="M592.7,490 L592.7,530" start />
      <Arrow d="M592.7,558 L592.7,599" />
      <Arrow d="M540,591 L559.4,601.6" />
      <Arrow d="M539,613 L559,613" />
      <Arrow d="M540,635 L559.4,623.5" />
      <Arrow d="M540,643 L564.2,651" />
      <Arrow d="M592.7,624 L592.7,649" />
      <Arrow d="M607,651 C622,620 622,585 606,562" />
      <Arrow d="M630,613 L673,613" />
      <Arrow d="M662,613 C636,613 626,628 626,649" />
      <Arrow d="M715,622 L715,676" />
      <Arrow d="M695,603 C680,578 688,540 711,520" />
      <Arrow d="M758,520 C782,545 776,582 749,599" />
      <Arrow d="M437,655 C444,642 452,632 462,621" end={false} />
      <Arrow d="M443,624 C450,634 455,643 461,651" start />
    </svg>
  );
}

export default function App() {
  return (
    <div style={{ position: 'absolute', left: 0, top: 0, width: 780, height: 710, background: '#fff', fontFamily: FONT, overflow: 'hidden' }}>
      <Background />
      <PanelA />
      <PanelB />
      <PanelC />
      <PanelD />
      {smallCharts.map((cfg, i) => <SmallChart key={i} cfg={cfg} />)}
    </div>
  );
}
